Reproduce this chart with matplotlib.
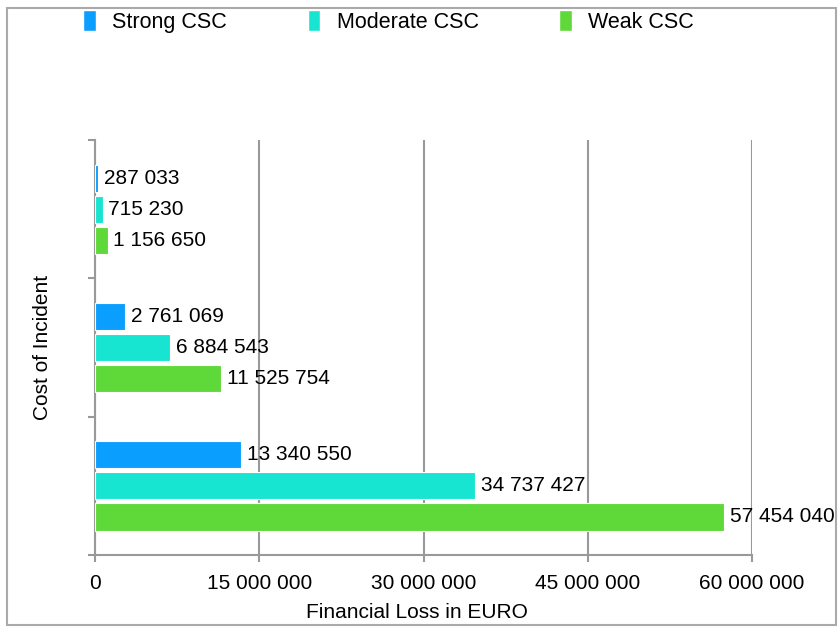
import matplotlib.pyplot as plt
import numpy as np
from matplotlib.patches import Patch, Rectangle

plt.rcParams['font.family'] = ['Liberation Sans', 'DejaVu Sans']

# incident cost groups, top to bottom
groups = ['Low', 'Medium', 'High']
series = ['Strong CSC', 'Moderate CSC', 'Weak CSC']
colors = ['#0A9EFF', '#17E5D1', '#5FD83A']
values = {
    'Strong CSC': [287033, 2761069, 13340550],
    'Moderate CSC': [715230, 6884543, 34737427],
    'Weak CSC': [1156650, 11525754, 57454040],
}
xticks = [0, 15000000, 30000000, 45000000, 60000000]


def fmt(v):
    return f'{v:,}'.replace(',', ' ')


fig = plt.figure(figsize=(8.38, 6.28), dpi=100)
ax = fig.add_axes([0.1134, 0.1162, 0.7840, 0.6608])

y = np.arange(len(groups))
h = 0.196
step = 0.225
for i, name in enumerate(series):
    pos = y + (i - 1) * step
    ax.barh(pos, values[name], height=h, color=colors[i],
            edgecolor='white', linewidth=0.8, zorder=3)
    for p, v in zip(pos, values[name]):
        ax.annotate(fmt(v), (v, p), xytext=(4, 0), textcoords='offset points',
                    va='center', ha='left', fontsize=15, color='black', zorder=4)

ax.set_ylim(len(groups) - 0.5, -0.5)
ax.set_xlim(0, 60000000)
ax.set_yticks(np.arange(len(groups) + 1) - 0.5)
ax.set_yticklabels([])
ax.set_xticks(xticks)
ax.set_xticklabels([fmt(t) for t in xticks], fontsize=15)
ax.tick_params(axis='x', length=5, width=1.5, color='#999999', pad=9)
ax.tick_params(axis='y', length=5, width=1.5, color='#999999')
ax.grid(axis='x', color='#999999', linewidth=1.5, zorder=0)
for s in ['top', 'right']:
    ax.spines[s].set_visible(False)
for s in ['left', 'bottom']:
    ax.spines[s].set_color('#999999')
    ax.spines[s].set_linewidth(1.5)

ax.set_xlabel('Financial Loss in EURO', fontsize=15)
ax.xaxis.set_label_coords(0.49, -0.115)
ax.set_ylabel('Cost of Incident', fontsize=15)
ax.yaxis.set_label_coords(-0.065, 0.5)

handles = [Patch(facecolor=c, edgecolor='white') for c in colors]
fig.legend(handles, series, loc='upper left', bbox_to_anchor=(0.099, 0.984),
           ncol=3, frameon=False, fontsize=15.5, handlelength=0.6,
           handleheight=1.1, handletextpad=0.75, columnspacing=3.75,
           borderpad=0, borderaxespad=0)

# outer frame
fig.patches.append(Rectangle((0.008, 0.004), 0.99, 0.983, transform=fig.transFigure,
                             fill=False, edgecolor='#aaaaaa', linewidth=1.5))

fig.savefig('out.png', dpi=100)
